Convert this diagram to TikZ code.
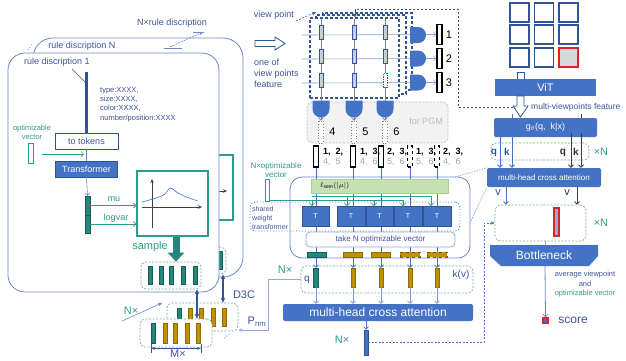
\documentclass[tikz,border=0pt]{standalone}
\usepackage{fontspec}
\setmainfont{Liberation Sans}
\usetikzlibrary{arrows.meta,calc,shapes.misc}
\definecolor{cblue}{HTML}{4472C4}
\definecolor{dblue}{HTML}{2F5597}
\definecolor{tblue}{HTML}{3E5497}
\definecolor{lblue}{HTML}{8FAADC}
\definecolor{rblue}{HTML}{6A88C8}
\definecolor{tealtx}{HTML}{2E9C8C}
\definecolor{tealbar}{HTML}{22877A}
\definecolor{goldbar}{HTML}{BF9000}
\definecolor{dashteal}{HTML}{7FA8A0}
\definecolor{greenf}{HTML}{C5E0B4}
\definecolor{greend}{HTML}{A9D18E}
\definecolor{pgmfill}{HTML}{F2F2F2}
\definecolor{pgmline}{HTML}{BFBFBF}
\definecolor{redline}{HTML}{E0202A}
\definecolor{axisgray}{HTML}{404040}
\definecolor{gridbar}{HTML}{C9CDD6}
\definecolor{numgray}{HTML}{A6A6A6}
\definecolor{darkq}{HTML}{333333}
\newcommand{\fsz}[2]{\fontsize{#1}{#2}\selectfont}
\begin{document}
\begin{tikzpicture}[x=1pt,y=-1pt,
  lbl/.style={inner sep=0pt, text=tblue},
  tlbl/.style={inner sep=0pt, text=tealtx},
  bluebox/.style={fill=cblue, draw=none, text=white, inner sep=0pt, rounded corners=2pt},
  rulebox/.style={draw=rblue, line width=0.8pt, inner sep=0pt},
  dbox/.style={draw=dashteal, dash pattern=on 2pt off 1.5pt, line width=0.7pt, rounded corners=5pt, inner sep=0pt, fill=white},
  vb/.style={inner sep=0pt, minimum width=4pt, line width=0.4pt},
  tbar/.style={vb, fill=tealbar, draw=tealbar!70!black, minimum height=18pt},
  gbar/.style={vb, fill=goldbar, draw=goldbar!75!black, minimum height=18pt},
  gboxst/.style={draw=tealtx, line width=1.1pt, fill=white, inner sep=0pt},
  arr/.style={-{Straight Barb[length=2.5pt,width=5pt]}},
  sarr/.style={-{Stealth[length=4pt,width=3.5pt]}},
  dbl/.style={{Stealth[length=5pt,width=4.5pt]}-{Stealth[length=5pt,width=4.5pt]}, dblue, line width=1.1pt},
  gridframe/.style={draw=dblue, dash pattern=on 3pt off 2pt, line width=1.1pt, fill=white, inner sep=0pt},
  gbarst/.style={inner sep=0pt, minimum width=4pt, minimum height=14pt, fill=gridbar, draw=dblue, line width=0.8pt},
  dshape/.style={rounded rectangle, rounded rectangle west arc=none, fill=cblue, draw=none, inner sep=0pt},
  outbarst/.style={inner sep=0pt, minimum width=5pt, fill=white, draw=black, line width=1.1pt},
  sq/.style={inner sep=0pt, minimum width=19pt, minimum height=19pt, draw=dblue, line width=1.2pt, fill=white}
]
\useasboundingbox (0,0) rectangle (626,360);

% ================= rule description stack =================
% back layer (rule N)
\node[rulebox, minimum width=210pt, minimum height=239pt, rounded corners=20pt] (ruleN) at (138,157.5) {};
\draw[rblue, dotted, line width=0.8pt] (28,50) -- (32,44);
\node[lbl, font=\fsz{9}{10}] (ruleNlbl) at (82,46.5) {rule discription N};
\node[gboxst, minimum width=71pt, minimum height=65pt] (graphN) at (197.5,187.5) {};
\draw[axisgray, sarr, line width=0.7pt] (205,191) -- (227,191);
\node[dbox, minimum width=60pt, minimum height=27pt] (sampN) at (196,260.5) {};
\foreach \x [count=\i] in {175,186,196.5,208.5,220} \node[tbar] (sNb\i) at (\x,260) {};

% front layer (rule 1)
\node[rulebox, fill=white, minimum width=211pt, minimum height=239pt, rounded corners=17pt] (rule1) at (113.5,172.5) {};
\node[lbl, font=\fsz{9}{10}] (rule1lbl) at (57,62) {rule discription 1};
\draw[dblue, line width=0.6pt] (72,69) -- (85,82);
\node[lbl, anchor=west, align=left, font=\fsz{7.5}{9.2}] (attrs) at (100,104.5) {type:XXXX,\\size:XXXX,\\color:XXXX,\\number/position:XXXX};

\node[draw=dblue, line width=0.8pt, fill=white, minimum width=63pt, minimum height=16pt, inner sep=0pt, text=tblue, font=\fsz{9}{10}] (tok) at (86.5,141) {to tokens};
\node[bluebox, rounded corners=0pt, draw=dblue, line width=0.6pt, minimum width=62pt, minimum height=16pt, font=\fsz{9}{10}] (trf) at (86.5,169) {Transformer};
\draw[dblue, line width=2.4pt] (86.5,72) -- (tok.north);
\draw[rblue, line width=0.6pt] (tok.south) -- (trf.north);

\node[tlbl, align=center, font=\fsz{7.5}{9}] (optlbl) at (32,132) {optimizable\\vector};
\node[draw=tealtx, fill=white, line width=0.9pt, minimum width=5pt, minimum height=20pt, inner sep=0pt] (optv1) at (30.5,153) {};
\draw[tealtx, arr, line width=0.6pt] ($(optv1.east)+(9,1)$) -- (84,154);

\node[vb, minimum width=5pt, minimum height=19pt, fill=tealbar, draw=tealbar!70!black] (mub) at (87.5,205.5) {};
\node[vb, minimum width=5pt, minimum height=18pt, fill=tealbar, draw=tealbar!70!black] (lvb) at (87.5,224) {};
\draw[rblue, arr, line width=0.6pt] (trf.south) -- (mub.north);

\node[gboxst, minimum width=71pt, minimum height=65pt] (graph) at (172.5,203.5) {};
\draw[tealtx, arr, line width=0.7pt] (mub.east) -- (graph.west |- mub.east);
\draw[tealtx, arr, line width=0.7pt] (lvb.east) -- (graph.west |- lvb.east);
\node[tlbl, font=\fsz{9}{10}] (mulbl) at (114,199) {mu};
\node[tlbl, font=\fsz{9}{10}] (lvlbl) at (116,218) {logvar};
\draw[axisgray, sarr, line width=0.7pt] (152,228) -- (152,179);
\draw[axisgray, sarr, line width=0.7pt] (142,207) -- (202,207);
\draw[cblue, line width=0.6pt] plot[smooth, tension=0.6] coordinates {(142,202) (156,198) (165,194) (170,188) (175,191) (184,196) (198,201)};

\node[dbox, minimum width=60pt, minimum height=27pt] (samp) at (171,275.5) {};
\foreach \x [count=\i] in {150,161,171.5,183.5,195} \node[tbar] (sb\i) at (\x,275) {};
\draw[tealbar, line width=7pt, -{Triangle[length=9pt,width=16pt]}] (graph.south -| 176,0) -- (samp.north -| 176,0);
\node[tlbl, font=\fsz{11}{12}] (samplbl) at (150,247) {sample};

% ================= sampled programs =================
\node[dbox, minimum width=71pt, minimum height=28pt] (backstk) at (202.5,317) {};
\node[tbar] (bk1) at (179.5,317) {};
\foreach \x [count=\i from 2] in {190.5,201.5,213.5,224.5} \node[gbar] (bk\i) at (\x,317) {};
\node[dbox, minimum width=72pt, minimum height=28pt] (frontstk) at (176,333) {};
\node[tbar, minimum height=20pt] (fr1) at (153.5,333) {};
\foreach \x [count=\i from 2] in {165,175.5,187.5,198.5} \node[gbar, minimum height=20pt] (fr\i) at (\x,333) {};

\draw[dbl] ($(sampN.south)+(27,0)$) -- ($(backstk.north)+(20.5,0)$);
\draw[dbl] ($(samp.south)+(26,0)$) -- ($(frontstk.north)+(21,0)$);
\node[lbl, font=\fsz{11}{12}] (d3c) at (244,295) {D3C};
\node[tlbl, font=\fsz{11}{12}] (nx1) at (131,311) {N×};
\draw[rblue, line width=0.6pt, sarr] (122,321) -- (162,303);
\draw[dblue, line width=0.7pt, {Stealth[length=4pt,width=3pt]}-{Stealth[length=4pt,width=3pt]}] ($(frontstk.south)+(-25,1)$) -- ($(frontstk.south)+(25,1)$);
\draw[dblue, line width=0.7pt] ($(frontstk.south)+(-25,-3)$) -- ($(frontstk.south)+(-25,6)$);
\draw[dblue, line width=0.7pt] ($(frontstk.south)+(25,-3)$) -- ($(frontstk.south)+(25,6)$);
\node[lbl, font=\fsz{11}{12}] (mx) at (178,354) {M×};
\draw[rblue, dotted, line width=0.8pt] (224,338) -- (231,333);
\node[lbl, font=\fsz{11}{12}] (pnm) at (257,322) {P$_{\mathrm{nm}}$};

% ================= viewpoint features =================
\node[lbl, font=\fsz{9}{10}] (vplbl) at (274,15) {view point};
\draw[dblue, dash pattern=on 2pt off 1.5pt, line width=0.6pt, sarr] (296,21) -- (316,12);
\draw[dblue, line width=0.8pt, fill=white] (255,40.5) -- (275,40.5) -- (275,37) -- (285,43.5) -- (275,50) -- (275,46.5) -- (255,46.5) -- cycle;
\node[lbl, anchor=west, align=left, font=\fsz{9}{11}] (featlbl) at (254,73) {one of\\view points\\feature};

\node[gridframe, minimum width=89pt, minimum height=77pt] (gfr3) at (367.5,51.5) {};
\node[gridframe, minimum width=90pt, minimum height=79pt] (gfr2) at (361,54.5) {};
\node[gridframe, minimum width=89pt, minimum height=80pt] (gfr1) at (354.5,58) {};

\node[fill=pgmfill, draw=pgmline, dash pattern=on 2pt off 1.5pt, line width=0.7pt, rounded corners=6pt, minimum width=141pt, minimum height=41pt, inner sep=0pt] (pgm) at (377.5,122.5) {};
\node[inner sep=0pt, text=pgmline, font=\fsz{9}{10}] (pgmlbl) at (426,121) {for PGM};

% output bars of the row poolings
\foreach \y [count=\i] in {34.5,58.5,82.5} {
  \node[outbarst, minimum height=20pt] (ob\i) at (439.5,\y) {};
  \node[inner sep=0pt, font=\fsz{11}{12}] (obl\i) at (449,\y) {\i};
}
% dotted bars of the column poolings
\foreach \x [count=\i from 4] in {321,354,385} {
  \node[inner sep=0pt, minimum width=5pt, minimum height=22pt, draw=gray, dotted, line width=0.9pt, fill=white] (db\i) at (\x,132) {};
  \node[inner sep=0pt, font=\fsz{11}{12}] (dbl\i) at (\x+11.5,132) {\i};
}
% row and column lines
\foreach \y [count=\i] in {35,59,83} \draw[lblue!90!dblue, line width=0.6pt, arr] (302,\y) -- (ob\i.west);
\foreach \x [count=\i from 4] in {321,354,385} \draw[gray, line width=0.6pt, arr] (\x,19) -- (db\i.north);
% feature bars in the grid
\foreach \y [count=\r] in {32,56,80} \foreach \x [count=\c] in {321,354,385} {
  \ifnum\r\c=33
    \node[gbarst, fill=white, draw=redline, dash pattern=on 1.5pt off 1pt] (gb\r\c) at (\x,\y) {};
  \else
    \node[gbarst] (gb\r\c) at (\x,\y) {};
  \fi
}
% poolings
\foreach \y [count=\i] in {35,58.5,82.5} \node[dshape, minimum width=12pt, minimum height=16pt] (pr\i) at (418,\y) {};
\foreach \x [count=\i] in {321,354,385} \node[dshape, rotate=-90, minimum width=12pt, minimum height=17pt] (pc\i) at (\x,109) {};
% feedback of the multi-viewpoint feature
\draw[dblue, dash pattern=on 2.5pt off 1.5pt, line width=0.8pt, sarr] (513,107) -- (458,107) -- (458,9) -- (355,9) -- (gfr1.north -| 355,0);

% ================= program candidates =================
\foreach \x/\dsh [count=\i] in {316/solid,353/solid,381/solid,410/dashed,437/dashed}
  \node[outbarst, \dsh, minimum width=4.5pt, minimum height=21pt] (lb\i) at (\x,156.5) {};
\node[anchor=west, align=left, inner sep=0pt, font=\fsz{9}{10}] (lt1) at ($(lb1.east)+(4,0)$) {\textbf{1,\ \ 2,}\\\textcolor{numgray}{4,\ \ 5}};
\node[anchor=west, align=left, inner sep=0pt, font=\fsz{9}{10}] (lt2) at ($(lb2.east)+(4,0)$) {\textbf{1,\ \ 3,}\\\textcolor{numgray}{4,\ \ 6}};
\node[anchor=west, align=left, inner sep=0pt, font=\fsz{9}{10}] (lt3) at ($(lb3.east)+(3,0)$) {\textbf{2,\ \ 3,}\\\textcolor{numgray}{5,\ \ 6}};
\node[anchor=west, align=left, inner sep=0pt, font=\fsz{9}{10}] (lt4) at ($(lb4.east)+(3,0)$) {\textbf{1,\ \ 3,}\\\textcolor{numgray}{5,\ \ 6}};
\node[anchor=west, align=left, inner sep=0pt, font=\fsz{9}{10}] (lt5) at ($(lb5.east)+(3,0)$) {\textbf{2,\ \ 3,}\\\textcolor{numgray}{4,\ \ 6}};

\node[tlbl, align=center, font=\fsz{8}{9}] (nopt) at (276,170) {N×optimizable\\vector};
\node[draw=rblue, line width=0.8pt, fill=white, rounded corners=12pt, minimum width=180pt, minimum height=81pt, inner sep=0pt] (encbox) at (380,217.5) {};
\node[draw=cblue, dotted, line width=0.9pt, rounded corners=5pt, minimum width=210pt, minimum height=29pt, inner sep=0pt] (swt) at (355,216.5) {};
\node[lbl, anchor=west, align=left, font=\fsz{7}{9}] (swtlbl) at (252,218) {shared\\weight\\transformer};

% program lines down to the query/key stack
\node[dbox, minimum width=172pt, minimum height=27pt] (qbox) at (387,279.5) {};
\node[tbar, minimum width=5pt, minimum height=19pt] (qb1) at (316,277.5) {};
\foreach \x [count=\i from 2] in {353,381,410,437} \node[gbar, minimum height=19pt] (qb\i) at (\x,277.5) {};
\foreach \i in {1,...,5} \draw[cblue, line width=0.7pt, arr] (lb\i.south) -- (qb\i.north);

\node[fill=greenf, draw=greend, line width=0.6pt, minimum width=137pt, minimum height=14pt, inner sep=0pt] (sem) at (379.5,186) {};
\node[anchor=west, inner sep=0pt, font=\fsz{7}{8}] (semlbl) at (320,186) {$\ell_{\mathrm{sem}}(|\mu|)$};
\node[draw=tealtx, fill=white, line width=0.9pt, minimum width=4pt, minimum height=22pt, inner sep=0pt] (optv2) at (267,190) {};

\foreach \x/\w [count=\i] in {315.5/27,351/28,379.5/27,408/28,437/28}
  \node[bluebox, rounded corners=0pt, draw=dblue, line width=0.5pt, minimum width=\w pt, minimum height=20pt, font=\fsz{7}{8}] (T\i) at (\x,216) {T};
\draw[tealtx, line width=0.8pt] (optv2.east |- 0,200) -- (403,200);
\draw[tealtx, line width=0.8pt] (312,196) -- (431,196);
\foreach \x in {312,374,403} \draw[tealtx, line width=0.7pt, arr] (\x,200) -- (\x,206);
\foreach \x in {347,431} \draw[tealtx, line width=0.7pt, arr] (\x,196) -- (\x,206);

\node[draw=lblue, fill=white, line width=0.8pt, rounded corners=4pt, minimum width=149pt, minimum height=15pt, inner sep=0pt, text=tblue, font=\fsz{8}{9}] (takeN) at (380.5,239.5) {take N optimizable vector};
\node[inner sep=0pt, minimum width=19pt, minimum height=5pt, fill=tealbar, draw=tealbar!70!black, line width=0.4pt] (hb1) at (316.5,254.5) {};
\node[inner sep=0pt, minimum width=19pt, minimum height=5pt, fill=goldbar, draw=goldbar!75!black, line width=0.4pt] (hb2) at (353,254.5) {};
\node[inner sep=0pt, minimum width=19pt, minimum height=5pt, fill=goldbar, draw=goldbar!75!black, line width=0.4pt] (hb3) at (381,254.5) {};
\node[inner sep=0pt, minimum width=20pt, minimum height=5pt, fill=goldbar, draw=goldbar!60!black, dashed, line width=0.5pt] (hb4) at (410,254.5) {};
\node[inner sep=0pt, minimum width=20pt, minimum height=5pt, fill=goldbar, draw=goldbar!60!black, dashed, line width=0.5pt] (hb5) at (437,254.5) {};

\node[tlbl, font=\fsz{11}{12}] (nx2) at (285,269.5) {N×};
\node[lbl, font=\fsz{10}{11}] (qlbl) at (307,280) {q};
\node[lbl, font=\fsz{10}{11}] (kvlbl) at (461,275) {k(v)};
\draw[lblue, line width=0.8pt, sarr] (qbox.west) -- (268,279.5) -- (268,330) -- ($(backstk.east)+(0,13)$);

\node[bluebox, minimum width=190pt, minimum height=17pt, font=\fsz{12}{13}] (mhca) at (378,312.5) {multi-head cross attention};
\foreach \i in {1,...,5} \draw[lblue!80!dblue, line width=0.7pt, arr] (qb\i.south) -- (qb\i.south |- mhca.north);
\node[inner sep=0pt, minimum width=4pt, minimum height=25pt, fill=cblue, draw=dblue, line width=0.8pt] (outbar) at (366,342.5) {};
\draw[cblue, line width=0.7pt, arr] (mhca.south -| outbar.north) -- (outbar.north);
\node[tlbl, font=\fsz{11}{12}] (nx3) at (342,340) {N×};

% ================= scoring branch =================
\foreach \r/\y in {1/12.5,2/34.5,3/57.5} \foreach \c/\x in {1/519.5,2/544,3/568.5} {
  \ifnum\r\c=33
    \node[sq, fill=gray!30, draw=redline] (vsq\r\c) at (\x,\y) {};
  \else
    \node[sq] (vsq\r\c) at (\x,\y) {};
  \fi
}
\draw[dblue, line width=0.8pt, fill=white] (517,72) rectangle (524,80);
\node[bluebox, rounded corners=0pt, minimum width=101pt, minimum height=17pt, font=\fsz{11}{12}] (vit) at (545.5,87.5) {ViT};
\draw[dblue, line width=0.8pt, fill=white] (517,96) -- (524,96) -- (524,106) -- (528,106) -- (520.5,117) -- (513,106) -- (517,106) -- cycle;
\node[lbl, anchor=west, font=\fsz{8.5}{10}] (mvf) at (531,107) {multi-viewpoints feature};

\draw[cblue, line width=0.9pt] (512,114) -- (512,120);
\draw[axisgray, line width=0.9pt] (581,114) -- (581,120);
\node[bluebox, minimum width=103pt, minimum height=19pt, font=\fsz{9}{10}] (gth) at (545.5,127.5) {g$_\theta$(q,\ \ k|x)};
\node[dbox, minimum width=98pt, minimum height=17pt, fill=none] (qkbox) at (540,151.5) {};
\node[bluebox, minimum width=114pt, minimum height=19pt, font=\fsz{8}{9}] (mhca2) at (544,177.5) {multi-head cross attention};
\draw[cblue, line width=0.9pt, arr] (500,133) -- (mhca2.north -| 500,0);
\draw[cblue, line width=0.9pt, arr] (512,133) -- (mhca2.north -| 512,0);
\draw[axisgray, line width=0.9pt, arr] (571,133) -- (mhca2.north -| 571,0);
\draw[axisgray, line width=0.9pt, arr] (581,133) -- (mhca2.north -| 581,0);
\node[inner sep=0pt, text=dblue, font=\bfseries\fsz{10}{11}] (ql) at (494,152.5) {q};
\node[inner sep=0pt, text=dblue, font=\bfseries\fsz{10}{11}] (kl) at (507,151.5) {k};
\node[inner sep=0pt, text=darkq, font=\bfseries\fsz{10}{11}] (qr) at (563,153) {q};
\node[inner sep=0pt, text=darkq, font=\bfseries\fsz{10}{11}] (kr) at (576,151.5) {k};
\node[tlbl, font=\fsz{11}{12}] (xn1) at (601,152) {×N};
\draw[lblue, dash pattern=on 1.5pt off 1pt, line width=0.7pt] (455,177) -- (mhca2.north west);
\draw[lblue, dash pattern=on 1.5pt off 1pt, line width=0.7pt] (470,223) -- (mhca2.south west);

\node[dbox, fill=none, rounded corners=6pt, minimum width=91pt, minimum height=36pt] (xnbox) at (540.5,223) {};
\node[inner sep=0pt, text=dblue, font=\fsz{11}{12}] (vl) at (498,193) {v};
\node[inner sep=0pt, text=darkq, font=\fsz{11}{12}] (vr) at (567,193) {v};
\draw[cblue, line width=0.9pt, arr] (mhca2.south -| 506,0) -- (xnbox.north -| 506,0);
\draw[axisgray, line width=0.9pt, arr] (mhca2.south -| 577,0) -- (xnbox.north -| 577,0);
\node[inner sep=0pt, minimum width=5pt, minimum height=28pt, fill=lblue, draw=redline, line width=1.1pt] (rbar) at (556.5,222) {};
\node[tlbl, font=\fsz{11}{12}] (xn2) at (601,223) {×N};
\draw[cblue, dash pattern=on 2pt off 1.5pt, line width=0.8pt, sarr] (outbar.east) -- (484,342.5) -- (484,223) -- (xnbox.west);

\fill[cblue] (490,245) -- (598,245) -- (598,256) -- (589,266) -- (501,266) -- (490,256) -- cycle;
\node[inner sep=0pt, text=white, font=\fsz{12}{13}] (bneck) at (544,255.5) {Bottleneck};
\draw[lblue, line width=0.8pt] (xnbox.south -| 545,0) -- (545,245);
\node[inner sep=0pt, minimum width=5pt, minimum height=5pt, fill=cblue, draw=redline, line width=1.1pt] (score) at (545.5,320.5) {};
\draw[rblue, line width=0.8pt, arr] (545,266) -- (score.north);
\node[lbl, font=\fsz{12}{13}] (scorelbl) at (573,320.5) {score};
\node[inner sep=0pt, align=center, font=\fsz{7.5}{9.5}] (avglbl) at (585,284.5) {\textcolor{tblue}{average viewpoint}\\\textcolor{tblue}{and}\\\textcolor{tealtx}{optimizable vector}};

% ================= caption arrow =================
\node[lbl, font=\fsz{9}{10}] (nrule) at (172,23) {N×rule discription};
\draw[rblue, line width=0.6pt] (164,48) -- (182,48);
\draw[rblue, line width=0.6pt, dash pattern=on 2pt off 1pt, sarr] (170,47) -- (203,32);
\draw[rblue, line width=0.6pt] (193,32) -- (204,32);
\end{tikzpicture}
\end{document}
